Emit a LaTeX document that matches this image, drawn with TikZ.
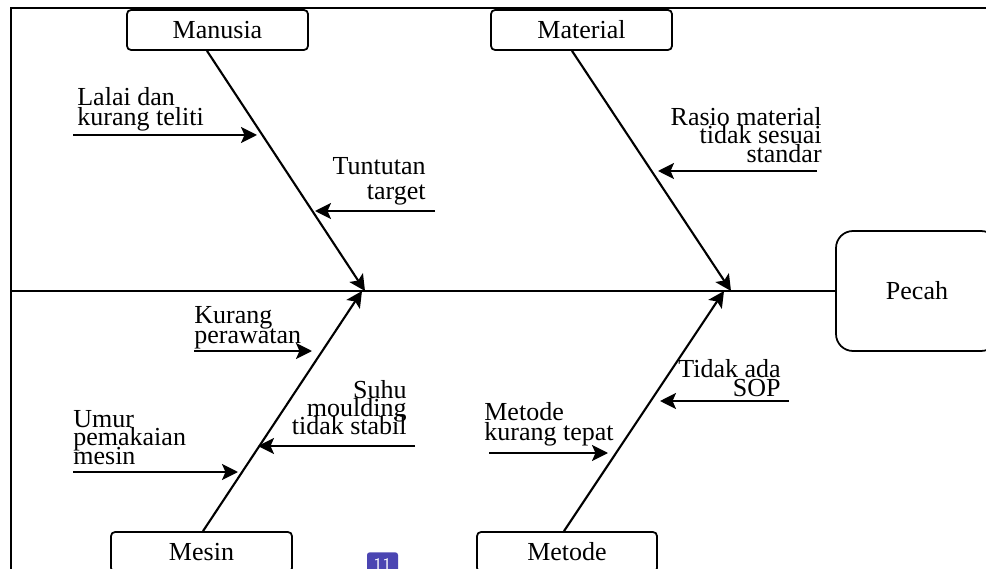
\documentclass[tikz,border=0pt]{standalone}
\usepackage{fontspec}
\setmainfont{Liberation Serif}
\usetikzlibrary{arrows.meta}
\definecolor{lencana}{HTML}{4B45B2}
\newcommand\rapat{\lineskiplimit=-1000pt\relax}
\begin{document}
\begin{tikzpicture}[font=\fontsize{14.8}{17}\selectfont,
  kotak/.style={draw,line width=1pt,rounded corners=0.08cm,minimum width=3.62cm,minimum height=0.8cm,inner sep=0pt},
  panah/.style={-{Stealth[length=0.32cm,width=0.32cm,inset=0.07cm]},line width=1.2pt},
  sebab/.style={inner sep=0pt,font=\fontsize{14.8}{#1}\selectfont\rapat},
  sebab/.default=11pt]
  \useasboundingbox (0,0) rectangle (19.72,-11.38);
  \clip (0,0) rectangle (19.72,-11.38);

  \draw[line width=1.5pt] (0.22,-11.6) |- (20,-0.16);

  \node[kotak] (manusia) at (4.35,-0.6) {Manusia};
  \node[kotak] (material) at (11.63,-0.6) {Material};
  \node[kotak] (mesin) at (4.03,-11.04) {Mesin};
  \node[kotak,minimum width=3.6cm] (metode) at (11.34,-11.04) {Metode};
  \node[draw,line width=1pt,rounded corners=0.34cm,minimum width=3.24cm,minimum height=2.4cm]
    (pecah) at (18.34,-5.82) {Pecah};

  \coordinate (ekor) at (0.22,-5.82);
  \draw[line width=1.2pt] (ekor) -- (pecah.west);

  \coordinate (ujung1) at ([xshift=-0.21cm]manusia.south);
  \coordinate (ujung2) at ([xshift=-0.19cm]material.south);
  \coordinate (ujung3) at ([xshift=0.03cm]mesin.north);
  \coordinate (ujung4) at ([xshift=-0.06cm]metode.north);
  \coordinate (kepala1) at (7.3,-5.82);
  \coordinate (kepala2) at (14.62,-5.82);
  \coordinate (kepala3) at (7.24,-5.82);
  \coordinate (kepala4) at (14.48,-5.82);
  \draw[panah] (ujung1) -- (kepala1);
  \draw[panah] (ujung2) -- (kepala2);
  \draw[panah] (ujung3) -- (kepala3);
  \draw[panah] (ujung4) -- (kepala4);

  \node[sebab=11.4pt,anchor=north west,align=left] (lalai) at (1.54,-1.75) {Lalai dan\\kurang teliti};
  \node[sebab=14.2pt,anchor=north east,align=right] (tuntutan) at (8.52,-3.15) {Tuntutan\\target};
  \node[sebab=10.5pt,anchor=north east,align=right] (rasio) at (16.44,-2.14) {Rasio material\\tidak sesuai\\standar};
  \node[sebab=11.2pt,anchor=north west,align=left] (rawat) at (3.88,-6.13) {Kurang\\perawatan};
  \node[sebab=10.3pt,anchor=north east,align=right] (suhu) at (8.14,-7.6) {Suhu\\moulding\\tidak stabil};
  \node[sebab=10.3pt,anchor=north west,align=left] (umur) at (1.46,-8.21) {Umur\\pemakaian\\mesin};
  \node[sebab=11.7pt,anchor=north west,align=left] (cara) at (9.68,-8.04) {Metode\\kurang tepat};
  \node[sebab=10.8pt,anchor=north east,align=right] (sop) at (15.62,-7.18) {Tidak ada\\SOP};

  \coordinate (a1) at (1.46,-2.7);   \coordinate (b1) at (5.14,-2.7);
  \coordinate (a2) at (8.7,-4.22);   \coordinate (b2) at (6.3,-4.22);
  \coordinate (a3) at (16.34,-3.42); \coordinate (b3) at (13.16,-3.42);
  \coordinate (a4) at (3.88,-7.02);  \coordinate (b4) at (6.24,-7.02);
  \coordinate (a5) at (8.3,-8.92);   \coordinate (b5) at (5.16,-8.92);
  \coordinate (a6) at (1.46,-9.44);  \coordinate (b6) at (4.76,-9.44);
  \coordinate (a7) at (9.78,-9.06);  \coordinate (b7) at (12.16,-9.06);
  \coordinate (a8) at (15.78,-8.02); \coordinate (b8) at (13.2,-8.02);
  \draw[panah] (a1) -- (b1);
  \draw[panah] (a2) -- (b2);
  \draw[panah] (a3) -- (b3);
  \draw[panah] (a4) -- (b4);
  \draw[panah] (a5) -- (b5);
  \draw[panah] (a6) -- (b6);
  \draw[panah] (a7) -- (b7);
  \draw[panah] (a8) -- (b8);

  \node[fill=lencana,rounded corners=1.5pt,text=white,font=\fontsize{10}{10}\selectfont\sffamily,
    minimum width=0.62cm,minimum height=0.5cm,inner sep=0pt,anchor=north] (hal) at (7.65,-11.04) {11};
\end{tikzpicture}
\end{document}
